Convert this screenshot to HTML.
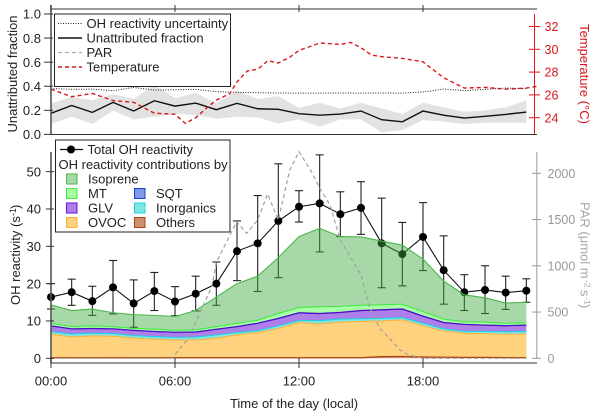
<!DOCTYPE html>
<html lang="en">
<head>
<meta charset="utf-8">
<title>OH reactivity chart</title>
<style>
html,body{margin:0;padding:0;background:#fff;width:600px;height:414px;overflow:hidden}
svg{display:block}
text{font-family:"Liberation Sans",sans-serif;font-size:13px;fill:#222}
</style>
</head>
<body>
<svg id="chart" xmlns="http://www.w3.org/2000/svg" width="600" height="414" viewBox="0 0 600 414">
  <g id="lower-marks"></g>
  <g id="upper-marks"></g>
  <g id="axes"></g>

  <text transform="translate(17,74) rotate(-90)" text-anchor="middle">Unattributed fraction</text>
  <text transform="translate(20,305) rotate(-90)">OH reactivity (s<tspan x="89" dy="-4" style="font-size:9px">-1</tspan><tspan x="96" dy="4">)</tspan></text>
  <text transform="translate(580,74) rotate(90)" text-anchor="middle" style="fill:#d8181c">Temperature (°C)</text>
  <text transform="translate(580.5,202) rotate(90)" style="fill:#a6a6a6">PAR (μmol m<tspan x="78" dy="-4" style="font-size:8.5px;fill:#a6a6a6">-2</tspan><tspan x="88" dy="4" style="fill:#a6a6a6">s</tspan><tspan x="95" dy="-4" style="font-size:8.5px;fill:#a6a6a6">-1</tspan><tspan x="102" dy="4" style="fill:#a6a6a6">)</tspan></text>
  <text x="294" y="408" text-anchor="middle">Time of the day (local)</text>

  <g>
    <rect x="54.5" y="14" width="176" height="72.5" fill="#fff" stroke="#222" stroke-width="1"/>
    <line x1="58" x2="82" y1="23.5" y2="23.5" stroke="#222" stroke-width="1" stroke-dasharray="1 1.5"/>
    <text x="86.5" y="28">OH reactivity uncertainty</text>
    <line x1="58" x2="82" y1="38" y2="38" stroke="#111" stroke-width="1.4"/>
    <text x="86.5" y="42.5">Unattributed fraction</text>
    <line x1="58" x2="82" y1="52.5" y2="52.5" stroke="#aaa" stroke-width="1.2" stroke-dasharray="4 3"/>
    <text x="86.5" y="57">PAR</text>
    <line x1="58" x2="82" y1="67" y2="67" stroke="#d8181c" stroke-width="1.4" stroke-dasharray="4 3"/>
    <text x="86.5" y="71.5">Temperature</text>
  </g>

  <g>
    <rect x="55.5" y="140" width="174.5" height="92" fill="#fff" stroke="#222" stroke-width="1"/>
    <line x1="60" x2="83" y1="149.5" y2="149.5" stroke="#111" stroke-width="1.2"/>
    <circle cx="71" cy="149.5" r="4" fill="#000"/>
    <text x="87.5" y="154">Total OH reactivity</text>
    <text x="58.5" y="169">OH reactivity contributions by</text>

    <rect x="66.5" y="174" width="10.5" height="10" fill="#a6d9a6" stroke="#4bb84b"/>
    <text x="88" y="183.5">Isoprene</text>
    <rect x="66.5" y="188.5" width="10.5" height="10" fill="#a8ffa8" stroke="#3cea3c"/>
    <text x="88" y="198">MT</text>
    <rect x="66.5" y="203" width="10.5" height="10" fill="#ae7fe8" stroke="#6a10cc"/>
    <text x="88" y="212.5">GLV</text>
    <rect x="66.5" y="217.5" width="10.5" height="10" fill="#ffd27f" stroke="#ffb030"/>
    <text x="88" y="227">OVOC</text>
    <rect x="134.5" y="188.5" width="10.5" height="10" fill="#7f9be8" stroke="#1040cc"/>
    <text x="156" y="198">SQT</text>
    <rect x="134.5" y="203" width="10.5" height="10" fill="#7fe6e6" stroke="#20d0e0"/>
    <text x="156" y="212.5">Inorganics</text>
    <rect x="134.5" y="217.5" width="10.5" height="10" fill="#cf9070" stroke="#b04010"/>
    <text x="156" y="227">Others</text>
  </g>
</svg>
<script>
// Category axis
var hours = [0,1,2,3,4,5,6,7,8,9,10,11,12,13,14,15,16,17,18,19,20,21,22,23];
var xTickHours = [0,6,12,18];
var xTickLabels = ['00:00','06:00','12:00','18:00'];

// Upper panel
var fractionTicks = [0,0.2,0.4,0.6,0.8,1];
var fractionTickLabels = ['0.0','0.2','0.4','0.6','0.8','1.0'];
var temperatureTicks = [24,26,28,30,32];
var unattributed = [.175,.24,.183,.266,.194,.28,.235,.26,.205,.258,.213,.208,.172,.16,.169,.194,.122,.105,.194,.16,.136,.15,.166,.186];
var unattributedUpper = [.258,.31,.285,.335,.294,.41,.3,.346,.258,.363,.294,.318,.22,.263,.216,.263,.216,.169,.263,.224,.188,.2,.224,.285];
var unattributedLower = [.086,.147,.086,.197,.125,.147,.17,.16,.13,.147,.14,.09,.125,.064,.125,.125,.017,.036,.119,.105,.086,.097,.097,.097];
var uncertainty = [.382,.374,.376,.363,.39,.368,.371,.374,.355,.349,.346,.344,.343,.343,.344,.343,.344,.343,.352,.377,.363,.374,.385,.38];
var temperatureHours = [0,1,2,3,4,5,6,6.5,7,7.5,8,8.65,9,9.5,10,10.5,11,11.55,12,13,14,14.5,15,15.5,16,17,18,19,20,21,22,23,23.5];
var temperature = [26.5,25.84,26.13,25.5,25.35,24.4,24.3,23.5,24,24.8,25.55,26.1,27.15,28.1,28.25,29,28.8,29.3,29.9,30.55,30.43,30.6,30.14,29.5,29.35,29.2,28.9,27.5,26.6,26.66,26.5,26.6,26.75];

// Lower panel
var reactivityTicks = [0,10,20,30,40,50];
var parTicks = [0,500,1000,1500,2000];
var total = [16.4,17.7,15.3,19,14.7,18,15.2,17.3,20,28.7,30.8,36.8,40.6,41.5,38.6,40.3,30.8,27.9,32.5,23.6,17.7,18.3,17.6,18.1];
var totalUpper = [20,21.2,19.3,26.2,21,23,19.2,22,25.8,36.8,43.6,52.1,44.9,54.5,44.6,47.3,42.9,36.4,41.7,32.8,22.4,24.8,22,21.3];
var totalLower = [13.2,14.2,11.5,11.9,8.3,12.8,11.4,12.7,14.2,20.8,17.9,21.6,36.5,28.5,32.6,33.2,18.9,19.4,23.5,14.5,12.8,12,13.1,15];
var others = [.15,.15,.15,.15,.15,.15,.15,.15,.15,.15,.15,.15,.15,.15,.15,.15,.45,.5,.35,.3,.25,.25,.2,.15];
var ovoc = [6.35,5.55,5.85,5.75,5.25,4.95,4.75,4.75,5.25,6.15,6.75,7.85,9.45,9.05,9.55,9.75,9.55,9.8,8.35,7,6.45,6.35,6.2,6.35];
var inorganics = [.6,.8,.7,.7,.7,.7,.7,.8,.85,.6,.5,.7,.5,.9,.8,.7,.7,.6,.7,.6,.5,.6,.7,.7];
var glv = [1.35,1.15,1.05,1.05,1.15,1.15,1.15,1.1,1.3,1.35,1.75,1.75,1.85,1.65,1.55,1.95,2.05,2.05,1.65,1.45,1.65,1.45,1.4,1.45];
var sqt = [.25,.25,.25,.25,.25,.25,.25,.25,.25,.25,.25,.25,.25,.25,.25,.25,.25,.25,.25,.25,.25,.25,.25,.25];
var mt = [.7,.6,.7,.6,.5,.6,.5,.55,.7,.9,.8,1.3,1.4,1.8,1.6,1.4,1.3,1.3,1.2,.9,.7,.8,.65,.6];
var isoprene = [4.9,4.3,4.5,3.7,3.7,3.7,3.7,5.2,7.9,10.6,11.8,15,19,21,18.7,18.3,17.1,15.8,14.1,10.2,7.2,6.5,5.4,5.5];
var parHours = [0,5.84,6.65,7.78,8,8.98,9.47,10,10.48,11,11.55,12,12.6,13,13.5,14,15,15.4,15.9,16.9,17.3,18,23];
var par = [0,0,216,775,1038,1477,1351,1495,1776,1495,2035,2234,2017,1841,1658,1279,900,558,327,90,36,0,0];

var NS = 'http://www.w3.org/2000/svg';
function x(h){return 51 + h * 20.667;}
function yFraction(v){return 134.4 - v * 120.4;}
function yTemperature(v){return 117.7 - (v - 24) * 11.4;}
function yReactivity(v){return 358.3 - v * 3.733;}
function yPar(v){return 358.3 - v * 0.0925;}

function make(tag, parent, attrs, txt){
  var el = document.createElementNS(NS, tag);
  for (var k in attrs) el.setAttribute(k, attrs[k]);
  if (txt !== undefined) el.textContent = txt;
  parent.appendChild(el);
  return el;
}
function pts(xs, ys, fx, fy){
  return xs.map(function(h,i){return fx(h).toFixed(2)+','+fy(ys[i]).toFixed(2);}).join(' ');
}

var upper = document.getElementById('upper-marks');
var lower = document.getElementById('lower-marks');
var axes = document.getElementById('axes');
var el;

// ---- lower panel: total with error bars first, then translucent stack on top
hours.forEach(function(h,i){
  var g = make('g', lower, {stroke:'#222','stroke-width':1.1,fill:'none'});
  
  
  make('line', g, {x1:x(h),x2:x(h),y1:yReactivity(totalUpper[i]),y2:yReactivity(totalLower[i])});
  make('line', g, {x1:x(h)-4,x2:x(h)+4,y1:yReactivity(totalUpper[i]),y2:yReactivity(totalUpper[i])});
  make('line', g, {x1:x(h)-4,x2:x(h)+4,y1:yReactivity(totalLower[i]),y2:yReactivity(totalLower[i])});
});
el = make('polyline', lower, {points:pts(hours,total,x,yReactivity),fill:'none',stroke:'#111','stroke-width':1.1});


hours.forEach(function(h,i){
  var c = make('circle', lower, {cx:x(h),cy:yReactivity(total[i]),r:4,fill:'#000'});
  
  
});

var layers = [
  {name:'others',values:others,fill:'#cf9070',opacity:.9,stroke:'#a8400f',width:1.2},
  {name:'ovoc',values:ovoc,fill:'#ffd27f',opacity:1,stroke:'#ffb030',width:1},
  {name:'inorganics',values:inorganics,fill:'#7fe6e6',opacity:1,stroke:'#20d0e0',width:1},
  {name:'glv',values:glv,fill:'#ae7fe8',opacity:1,stroke:'#ae7fe8',width:.5},
  {name:'sqt',values:sqt,fill:'#5a14cc',opacity:1,stroke:'#4a10c8',width:1.2},
  {name:'mt',values:mt,fill:'#a8ffa8',opacity:1,stroke:'#3cea3c',width:1},
  {name:'isoprene',values:isoprene,fill:'#3faa3f',opacity:.46,stroke:'#4bb84b',width:1.1}
];
var base = hours.map(function(){return 0;});
var edges = [];
layers.forEach(function(l){
  var top = base.map(function(b,i){return b + l.values[i];});
  var upperEdge = pts(hours, top, x, yReactivity);
  var lowerEdge = pts(hours.slice().reverse(), base.slice().reverse(), x, yReactivity);
  var a = make('polygon', lower, {points:upperEdge+' '+lowerEdge,fill:l.fill,'fill-opacity':l.opacity,stroke:'none'});
  
  
  edges.push({points:upperEdge,stroke:l.stroke,width:l.width});
  base = top;
});
edges.forEach(function(d){
  var e = make('polyline', lower, {points:d.points,fill:'none',stroke:d.stroke,'stroke-width':d.width});
  
  
});
el = make('polyline', lower, {points:pts(parHours,par,x,yPar),fill:'none',stroke:'#a0a0a0','stroke-width':1.2,'stroke-dasharray':'4 3'});



// ---- upper panel
el = make('polygon', upper, {points:pts(hours,unattributedUpper,x,yFraction)+' '+pts(hours.slice().reverse(),unattributedLower.slice().reverse(),x,yFraction),fill:'#e2e2e2',stroke:'none'});


el = make('polyline', upper, {points:pts(hours,uncertainty,x,yFraction),fill:'none',stroke:'#222','stroke-width':1,'stroke-dasharray':'1 1.5'});


el = make('polyline', upper, {points:pts(hours,unattributed,x,yFraction),fill:'none',stroke:'#111','stroke-width':1.4});


el = make('polyline', upper, {points:pts(temperatureHours,temperature,x,yTemperature),fill:'none',stroke:'#d8181c','stroke-width':1.4,'stroke-dasharray':'4 3'});



// ---- axes
function axisLine(name, x1, y1, x2, y2, color, w){
  var l = make('line', axes, {x1:x1,y1:y1,x2:x2,y2:y2,stroke:color,'stroke-width':w||1});
  
  
}
axisLine('top-frame-line',51,9,537,9,'#333');
axisLine('upper-bottom-axis',51,134.5,537,134.5,'#333');
axisLine('upper-left-axis',51,5,51,134.5,'#555',1.6);
axisLine('lower-left-axis',51,152,51,363,'#555',1.6);
axisLine('lower-bottom-axis',51,363,537,363,'#333');
axisLine('temperature-axis',534.5,14,534.5,134.5,'#d8181c');
axisLine('par-axis',536.8,152,536.8,358.3,'#999');

xTickHours.forEach(function(h,i){
  axisLine('x-tick-upper',x(h),5,x(h),12,'#333');
  axisLine('x-tick-lower',x(h),358,x(h),368,'#333');
  var t = make('text', axes, {x:x(h),y:385.5,'text-anchor':'middle'}, xTickLabels[i]);
  
  
});
fractionTicks.forEach(function(v,i){
  axisLine('fraction-tick',44,yFraction(v),53,yFraction(v),'#333');
  var t = make('text', axes, {x:41,y:yFraction(v)+4.7,'text-anchor':'end'}, fractionTickLabels[i]);
  
  
});
reactivityTicks.forEach(function(v){
  axisLine('reactivity-tick',46,yReactivity(v),54,yReactivity(v),'#333');
  var t = make('text', axes, {x:41,y:yReactivity(v)+4.7,'text-anchor':'end'}, String(v));
  
  
});
temperatureTicks.forEach(function(v){
  axisLine('temperature-tick',529,yTemperature(v),540,yTemperature(v),'#d8181c');
  var t = make('text', axes, {x:544.5,y:yTemperature(v)+4.6,style:'fill:#d8181c;font-size:12.5px'}, String(v));
  
  
});
parTicks.forEach(function(v){
  axisLine('par-tick',532,yPar(v),541,yPar(v),'#999');
  var t = make('text', axes, {x:547.5,y:yPar(v)+4.6,style:'fill:#999;font-size:12.5px'}, String(v));
  
  
});
</script>
</body>
</html>
